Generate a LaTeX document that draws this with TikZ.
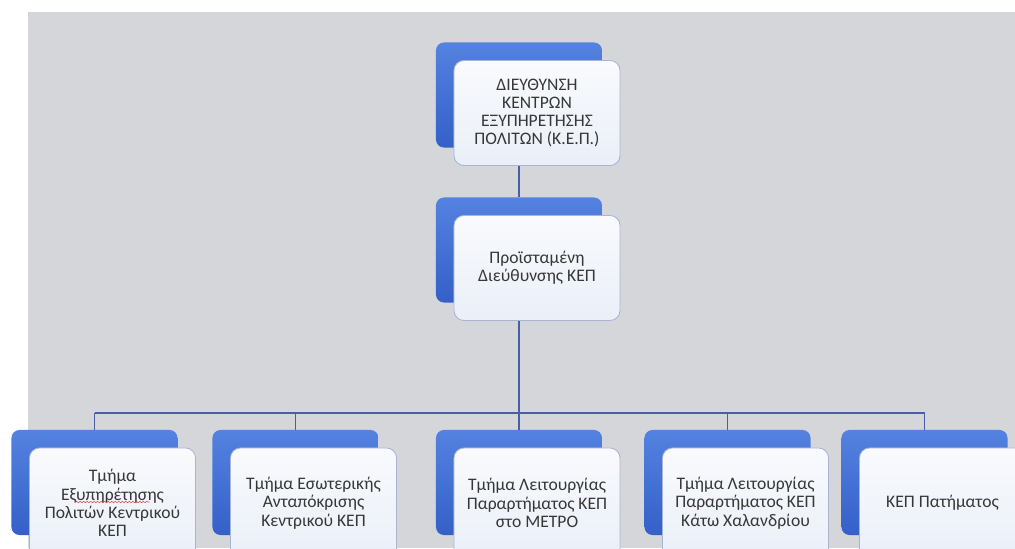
\documentclass[tikz,border=0pt]{standalone}
\usepackage{fontspec}
\setmainfont{Carlito}
\usetikzlibrary{calc,decorations.pathmorphing}
\definecolor{bggray}{RGB}{212,214,218}
\definecolor{boxblue}{RGB}{52,96,200}
\definecolor{boxbluelight}{RGB}{84,130,224}
\definecolor{frontfill}{RGB}{234,239,248}
\definecolor{frontline}{RGB}{168,180,210}
\definecolor{linkblue}{RGB}{74,94,168}
\definecolor{txtgray}{RGB}{55,55,55}
\definecolor{spellred}{RGB}{220,80,80}

\tikzset{
  backbox/.style={rectangle, rounded corners=0.2cm, minimum width=4.15cm, minimum height=2.625cm,
    top color=boxbluelight, bottom color=boxblue, draw=none},
  frontbox/.style={rectangle, rounded corners=0.25cm, minimum width=4.15cm, minimum height=2.625cm,
    top color=white!70!frontfill, bottom color=frontfill, draw=frontline, line width=0.6pt,
    align=center, text=txtgray, font=\fontsize{12.5}{13}\selectfont},
  lowbox/.style={frontbox, minimum height=2.75cm},
  link/.style={draw=linkblue, line width=1.4pt},
  spellmark/.style={draw=spellred, line width=0.4pt, decorate,
    decoration={snake, amplitude=0.5pt, segment length=2.5pt}}
}

\begin{document}
\begin{tikzpicture}[x=0.025cm, y=-0.025cm]
\clip (0,0) rectangle (1015,548);
\fill[bggray] (28,12) rectangle (1015,548);

% blue boxes behind
\node[backbox] (dirback) at (519,95) {};
\node[backbox] (headback) at (519,250) {};
\node[backbox] (t1back) at (94.5,482.5) {};
\node[backbox] (t2back) at (295.5,482.5) {};
\node[backbox] (t3back) at (519,482.5) {};
\node[backbox] (t4back) at (727.5,482.5) {};
\node[backbox] (t5back) at (924.5,482.5) {};

% connectors
\coordinate (bus) at (0,413);
\draw[link] (dirback.south) -- (headback.north);
\draw[link] (headback.south) -- (headback.south |- bus);
\draw[link] (bus -| t1back) -- (bus -| t5back);
\draw[link] (bus -| t1back) -- (t1back.north);
\draw[link] (bus -| t2back) -- (t2back.north);
\draw[link] (bus -| t3back) -- (t3back.north);
\draw[link] (bus -| t4back) -- (t4back.north);
\draw[link] (bus -| t5back) -- (t5back.north);

% white boxes in front
\node[frontbox] (dir) at (537,113) {ΔΙΕΥΘΥΝΣΗ\\ΚΕΝΤΡΩΝ\\ΕΞΥΠΗΡΕΤΗΣΗΣ\\ΠΟΛΙΤΩΝ (Κ.Ε.Π.)};
\node[frontbox] (head) at (537,268) {Προϊσταμένη\\Διεύθυνσης ΚΕΠ};
\node[lowbox] (t1) at (112.5,503) {Τμήμα\\Εξυπηρέτησης\\Πολιτών Κεντρικού\\ΚΕΠ};
\node[lowbox] (t2) at (313.5,503) {Τμήμα Εσωτερικής\\Ανταπόκρισης\\Κεντρικού ΚΕΠ};
\node[lowbox] (t3) at (537,503) {Τμήμα Λειτουργίας\\Παραρτήματος ΚΕΠ\\στο ΜΕΤΡΟ};
\node[lowbox] (t4) at (745.5,503) {Τμήμα Λειτουργίας\\Παραρτήματος ΚΕΠ\\Κάτω Χαλανδρίου};
\node[lowbox] (t5) at (942.5,503) {ΚΕΠ Πατήματος};

% spelling underline
\draw[spellmark] ($(t1.center)+(-37,-1)$) -- ++(74,0);
\end{tikzpicture}
\end{document}
